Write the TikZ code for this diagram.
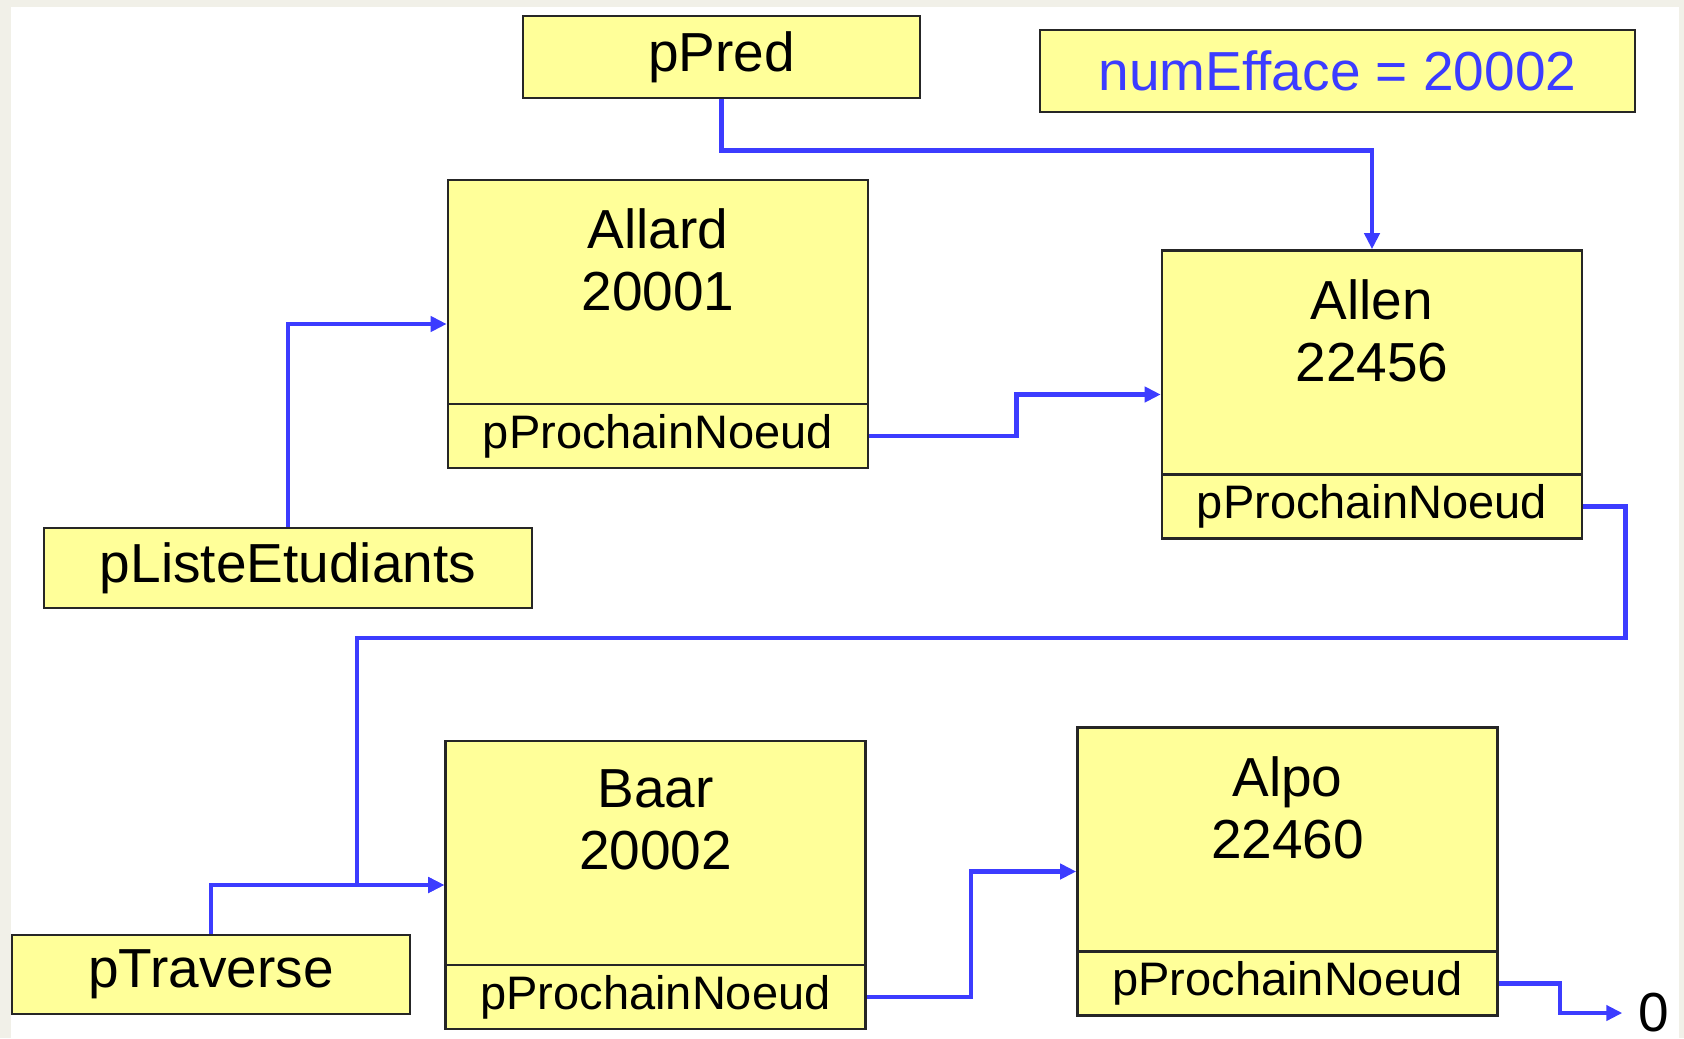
\documentclass[tikz,border=0pt]{standalone}
\usepackage{fontspec}
\setmainfont{Liberation Sans}
\usetikzlibrary{arrows.meta}
\definecolor{nodeyellow}{RGB}{255,255,153}
\definecolor{linkblue}{RGB}{60,60,255}
\definecolor{pagegrey}{RGB}{241,240,232}
\tikzset{
  cell/.style={draw=black!85, line width=1.3pt, fill=nodeyellow, inner sep=0pt},
  varbox/.style={cell, minimum height=41pt, font=\fontsize{27.5}{31}\selectfont},
  noeud/.style={cell, minimum width=210pt, minimum height=144pt},
  champ/.style={cell, minimum width=210pt, minimum height=32pt, font=\fontsize{23.5}{27}\selectfont},
  contenu/.style={anchor=north, inner sep=0pt, align=center, font=\fontsize{27.5}{31}\selectfont},
  lien/.style={draw=linkblue, line width=2.2pt, -{Triangle[length=8pt,width=7.5pt]}},
}
\begin{document}
\begin{tikzpicture}[x=0.5pt,y=-0.5pt]
  \useasboundingbox (0,0) rectangle (1684,1038);
  \fill[pagegrey] (0,0) rectangle (1684,1038);
  \fill[white] (11,7) rectangle (1679,1038);

  \node[varbox, minimum width=198.5pt] (ppred) at (721.5,57) {pPred};
  \node[varbox, minimum width=297.5pt, text=linkblue] (numefface) at (1337.5,71) {numEfface = 20002};
  \node[varbox, minimum width=244pt, minimum height=40pt] (pliste) at (288,568) {pListeEtudiants};
  \node[varbox, minimum width=199pt, minimum height=39.5pt] (ptraverse) at (211,974.5) {pTraverse};

  \node[noeud] (allard) at (658,324) {};
  \node[champ, anchor=south] (allardp) at (allard.south) {pProchainNoeud};
  \node[contenu] (allardtxt) at ([yshift=-15pt]allard.north) {Allard\\20001};

  \node[noeud] (allen) at (1372,394.5) {};
  \node[champ, anchor=south] (allenp) at (allen.south) {pProchainNoeud};
  \node[contenu] (allentxt) at ([yshift=-15pt]allen.north) {Allen\\22456};

  \node[noeud] (baar) at (655.5,885) {};
  \node[champ, anchor=south] (baarp) at (baar.south) {pProchainNoeud};
  \node[contenu] (baartxt) at ([yshift=-15pt]baar.north) {Baar\\20002};

  \node[noeud] (alpo) at (1287.5,871.5) {};
  \node[champ, anchor=south] (alpop) at (alpo.south) {pProchainNoeud};
  \node[contenu] (alpotxt) at ([yshift=-15pt]alpo.north) {Alpo\\22460};

  \node[inner xsep=8pt, inner ysep=0pt, font=\fontsize{27.5}{31}\selectfont] (nil) at (1654,1013) {0};

  \coordinate (jonction) at (357,638);

  \draw[lien] (ppred.south) -- ++(0,51) -| (allen.north);
  \draw[lien] (pliste.north) |- (allard.west);
  \draw[lien] (allardp.east) -- ++(147,0) |- (allen.west);
  \draw[lien] (allenp.east) -- ++(42,0) |- (jonction) |- (baar.west);
  \draw[lien] (ptraverse.north) |- (baar.west);
  \draw[lien] (baarp.east) -- ++(104,0) |- (alpo.west);
  \draw[lien] (alpop.east) -- ++(61,0) |- (nil.west);
\end{tikzpicture}
\end{document}
